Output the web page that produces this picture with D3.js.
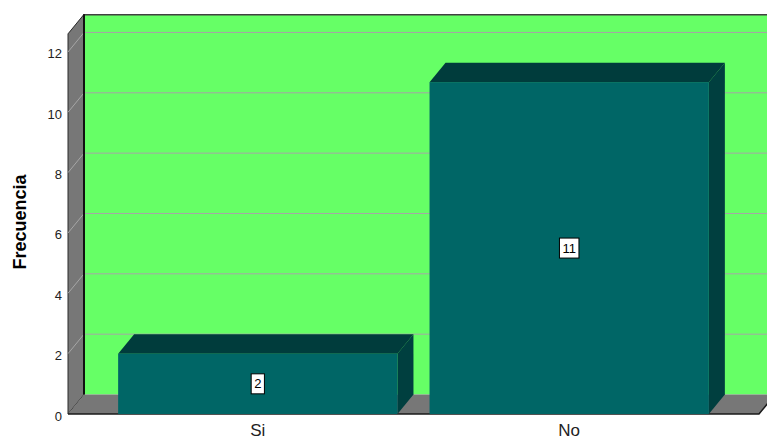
<!DOCTYPE html>
<html>
<head>
<meta charset="utf-8">
<script src="https://cdn.jsdelivr.net/npm/d3@7/dist/d3.min.js"></script>
<style>
  html, body { margin: 0; padding: 0; background: #ffffff; }
  svg { display: block; }
</style>
</head>
<body>
<svg id="chart" width="767" height="441"></svg>
<script>
// Data
const categories = ["Si", "No"];
const values = [2, 11];
const yTicks = [0, 2, 4, 6, 8, 10, 12];
const yMax = 12.6;
const yTitle = "Frecuencia";

// Layout of the 3D box (front plane + depth offset)
const front = { left: 68, right: 759, bottom: 414 };
const depth = { dx: 16, dy: -19.5 };

const svg = d3.select("#chart");

const x = d3.scaleBand()
  .domain(categories)
  .range([front.left, front.right])
  .paddingInner(0.103)
  .paddingOuter(0.161);

const y = d3.scaleLinear()
  .domain([0, 12])
  .range([front.bottom, front.bottom - 12 * 30.17]);

const line = d3.line();
const topY = y(yMax);

// Back wall
svg.append("rect")
  .attr("x", front.left + depth.dx)
  .attr("y", topY + depth.dy)
  .attr("width", front.right - front.left)
  .attr("height", y(0) - topY)
  .attr("fill", "#66ff66");

// Grid lines on back wall
svg.append("g").selectAll("line")
  .data(yTicks.filter(d => d > 0))
  .join("line")
  .attr("x1", front.left + depth.dx)
  .attr("x2", front.right + depth.dx)
  .attr("y1", d => y(d) + depth.dy)
  .attr("y2", d => y(d) + depth.dy)
  .attr("stroke", "#a6a6a6")
  .attr("stroke-width", 1);

// Top edge of back wall
svg.append("line")
  .attr("x1", front.left + depth.dx).attr("x2", front.right + depth.dx)
  .attr("y1", topY + depth.dy + 0.5).attr("y2", topY + depth.dy + 0.5)
  .attr("stroke", "#404040").attr("stroke-width", 1.5);

// Left wall
svg.append("path")
  .attr("d", line([
    [front.left, y(0)],
    [front.left + depth.dx, y(0) + depth.dy],
    [front.left + depth.dx, topY + depth.dy],
    [front.left, topY]
  ]) + "Z")
  .attr("fill", "#777777")
  .attr("stroke", "#2a2a2a")
  .attr("stroke-width", 1);

// Grid lines on left wall (diagonal)
svg.append("g").selectAll("line")
  .data(yTicks.filter(d => d > 0))
  .join("line")
  .attr("x1", front.left)
  .attr("x2", front.left + depth.dx)
  .attr("y1", d => y(d))
  .attr("y2", d => y(d) + depth.dy)
  .attr("stroke", "#a6a6a6")
  .attr("stroke-width", 1);

// Floor
svg.append("path")
  .attr("d", line([
    [front.left, y(0)],
    [front.right, y(0)],
    [front.right + depth.dx, y(0) + depth.dy],
    [front.left + depth.dx, y(0) + depth.dy]
  ]) + "Z")
  .attr("fill", "#777777");

// Inner edge between back wall and left wall
svg.append("line")
  .attr("x1", front.left + depth.dx).attr("x2", front.left + depth.dx)
  .attr("y1", topY + depth.dy).attr("y2", y(0) + depth.dy)
  .attr("stroke", "#111111").attr("stroke-width", 2);

// Front edges of the floor
svg.append("path")
  .attr("d", line([
    [front.left, y(0)],
    [front.right, y(0)],
    [front.right + depth.dx, y(0) + depth.dy]
  ]))
  .attr("fill", "none")
  .attr("stroke", "#1a1a1a")
  .attr("stroke-width", 1.5);

// Bars
const bars = svg.append("g").selectAll("g")
  .data(categories.map((c, i) => ({ c, v: values[i] })))
  .join("g");

bars.append("path") // side face
  .attr("d", d => {
    const x1 = x(d.c) + x.bandwidth();
    return line([
      [x1, y(d.v)],
      [x1 + depth.dx, y(d.v) + depth.dy],
      [x1 + depth.dx, y(0) + depth.dy],
      [x1, y(0)]
    ]) + "Z";
  })
  .attr("fill", "#003f3f");

bars.append("path") // top face
  .attr("d", d => {
    const x0 = x(d.c), x1 = x0 + x.bandwidth();
    return line([
      [x0, y(d.v)],
      [x0 + depth.dx, y(d.v) + depth.dy],
      [x1 + depth.dx, y(d.v) + depth.dy],
      [x1, y(d.v)]
    ]) + "Z";
  })
  .attr("fill", "#003c3c");

bars.append("rect") // front face
  .attr("x", d => x(d.c))
  .attr("y", d => y(d.v))
  .attr("width", x.bandwidth())
  .attr("height", d => y(0) - y(d.v))
  .attr("fill", "#006666");

// Value labels
bars.each(function(d) {
  const g = d3.select(this);
  const cx = x(d.c) + x.bandwidth() / 2;
  const cy = (y(d.v) + y(0)) / 2;
  const t = g.append("text")
    .attr("x", cx)
    .attr("y", cy)
    .attr("text-anchor", "middle")
    .attr("dominant-baseline", "central")
    .attr("font-family", "Liberation Sans, Arial, sans-serif")
    .attr("font-size", 13)
    .attr("fill", "#000")
    .text(d.v);
  const bb = t.node().getBBox();
  g.insert("rect", "text")
    .attr("x", cx - bb.width / 2 - 3)
    .attr("y", cy - 10)
    .attr("width", bb.width + 6)
    .attr("height", 20)
    .attr("fill", "#ffffff")
    .attr("stroke", "#000000")
    .attr("stroke-width", 1);
});

// Y tick labels
svg.append("g").selectAll("text")
  .data(yTicks)
  .join("text")
  .attr("x", front.left - 6)
  .attr("y", d => y(d) + 2)
  .attr("text-anchor", "end")
  .attr("dominant-baseline", "central")
  .attr("font-family", "Liberation Sans, Arial, sans-serif")
  .attr("font-size", 13)
  .attr("fill", "#222")
  .text(d => d);

// X category labels
svg.append("g").selectAll("text")
  .data(categories)
  .join("text")
  .attr("x", d => x(d) + x.bandwidth() / 2)
  .attr("y", 436)
  .attr("text-anchor", "middle")
  .attr("font-family", "Liberation Sans, Arial, sans-serif")
  .attr("font-size", 17)
  .attr("fill", "#222")
  .text(d => d);

// Y axis title
svg.append("text")
  .attr("transform", "translate(26,222) rotate(-90)")
  .attr("text-anchor", "middle")
  .attr("font-family", "Liberation Sans, Arial, sans-serif")
  .attr("font-weight", "bold")
  .attr("font-size", 18)
  .attr("fill", "#000")
  .text(yTitle);
</script>
</body>
</html>
